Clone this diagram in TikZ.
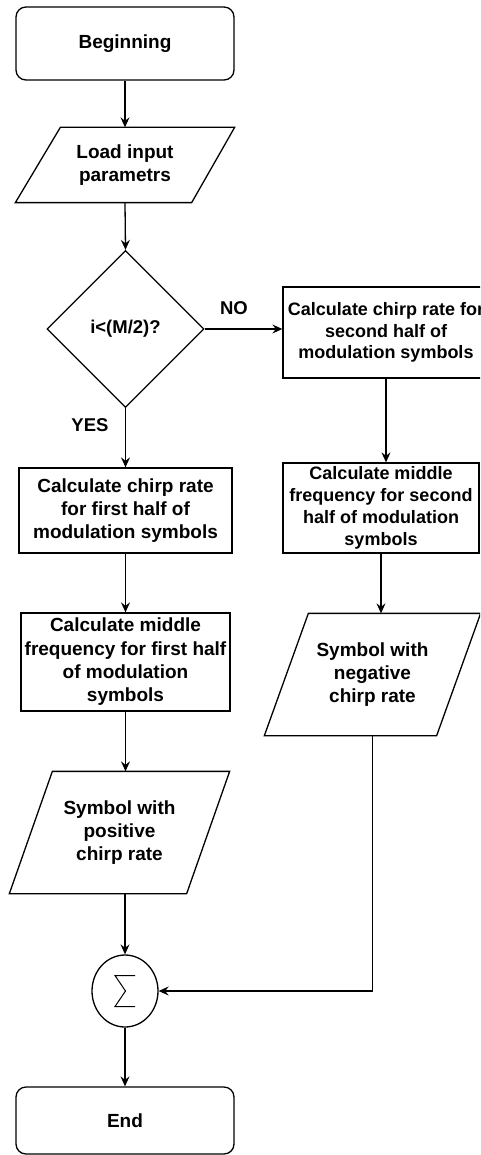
\documentclass[tikz,border=0pt]{standalone}
\usepackage{fontspec}
\setmainfont{Liberation Sans}
\usetikzlibrary{shapes.geometric,arrows.meta,calc}
\begin{document}
\begin{tikzpicture}[x=1pt,y=-1pt,
  line width=1.3pt,
  arr/.style={-{Stealth[length=10pt,width=9pt,inset=3.5pt]}},
  txtL/.style={font=\bfseries\fontsize{19}{23.3}\selectfont, align=center},
  txtR/.style={font=\bfseries\fontsize{18}{21.8}\selectfont, align=center},
  term/.style={draw, rounded corners=10pt, inner sep=0pt, txtL},
  procL/.style={draw, inner sep=0pt, txtL},
  procR/.style={draw, inner sep=0pt, txtR},
  io/.style={inner sep=0pt, txtL},
  lbl/.style={font=\bfseries\fontsize{18.5}{22}\selectfont}
]
\fill[white] (0,0) rectangle (480,1155);
\useasboundingbox (0,0) rectangle (480,1155);
\clip (0,0) rectangle (480,1155);

% left column
\node[term, minimum width=218pt, minimum height=73pt] (begin) at (125,43.5) {Beginning};
\node[io, minimum width=218pt, minimum height=74pt] (load) at (125,165) {Load input\\parametrs};
\draw ($(load.north west)+(45,0)$) -- (load.north east) -- ($(load.south east)+(-43,0)$) -- (load.south west) -- cycle;
\node[diamond, draw, aspect=1, minimum width=157pt, minimum height=157pt, inner sep=0pt, lbl] (dia) at (125.5,329) {i<(M/2)?};
\node[procL, minimum width=213pt, minimum height=85pt] (lb1) at (125.5,510.5) {Calculate chirp rate\\for first half of\\modulation symbols};
\node[procL, minimum width=209pt, minimum height=98pt] (lb2) at (125.5,662) {Calculate middle\\frequency for first half\\of modulation\\symbols};
\node[io, minimum width=219pt, minimum height=121pt] (pos) at (119.5,832.5) {Symbol with\\positive\\chirp rate};
\draw ($(pos.north west)+(43,0)$) -- (pos.north east) -- ($(pos.south east)+(-43,0)$) -- (pos.south west) -- cycle;
\node[draw, ellipse, minimum width=66pt, minimum height=72pt, inner sep=0pt] (sum) at (125,991) {};
\draw[line width=1pt] ($(sum.center)+(10,-15.5)$) -- ++(-20,0) -- ++(10.5,15.5) -- ++(-10.5,15.5) -- ++(20,0);
\node[term, minimum width=218pt, minimum height=67pt] (end) at (125,1120.5) {End};

% right column
\node[procR, minimum width=206pt, minimum height=91pt] (rb1) at (386,332.5) {Calculate chirp rate for\\second half of\\modulation symbols};
\node[procR, minimum width=196pt, minimum height=90pt] (rb2) at (381,508) {Calculate middle\\frequency for second\\half of modulation\\symbols};
\node[io, minimum width=215pt, minimum height=121pt] (neg) at (372.5,674.5) {Symbol with\\negative\\chirp rate};
\draw ($(neg.north west)+(44,0)$) -- (neg.north east) -- ($(neg.south east)+(-44,0)$) -- (neg.south west) -- cycle;

% labels
\node[lbl] (no) at (234,308) {NO};
\node[lbl] (yes) at (90,425) {YES};

% connectors
\draw[arr] (begin.south) -- (load.north);
\draw[arr] (load.south) -- (dia.north);
\draw[arr] (dia.east) -- (dia.east -| rb1.west);
\draw[arr] (dia.south) -- (lb1.north);
\draw[arr] (lb1.south) -- (lb2.north);
\draw[arr] (lb2.south) -- (lb2.south |- pos.north);
\draw[arr] (sum.north |- pos.south) -- (sum.north);
\draw[arr] (sum.south) -- (end.north);
\draw[arr] (rb1.south) -- (rb1.south |- rb2.north);
\draw[arr] (rb2.south) -- (rb2.south |- neg.north);
\draw[arr] (neg.south) -- (neg.south |- sum.east) -- (sum.east);
\end{tikzpicture}
\end{document}
